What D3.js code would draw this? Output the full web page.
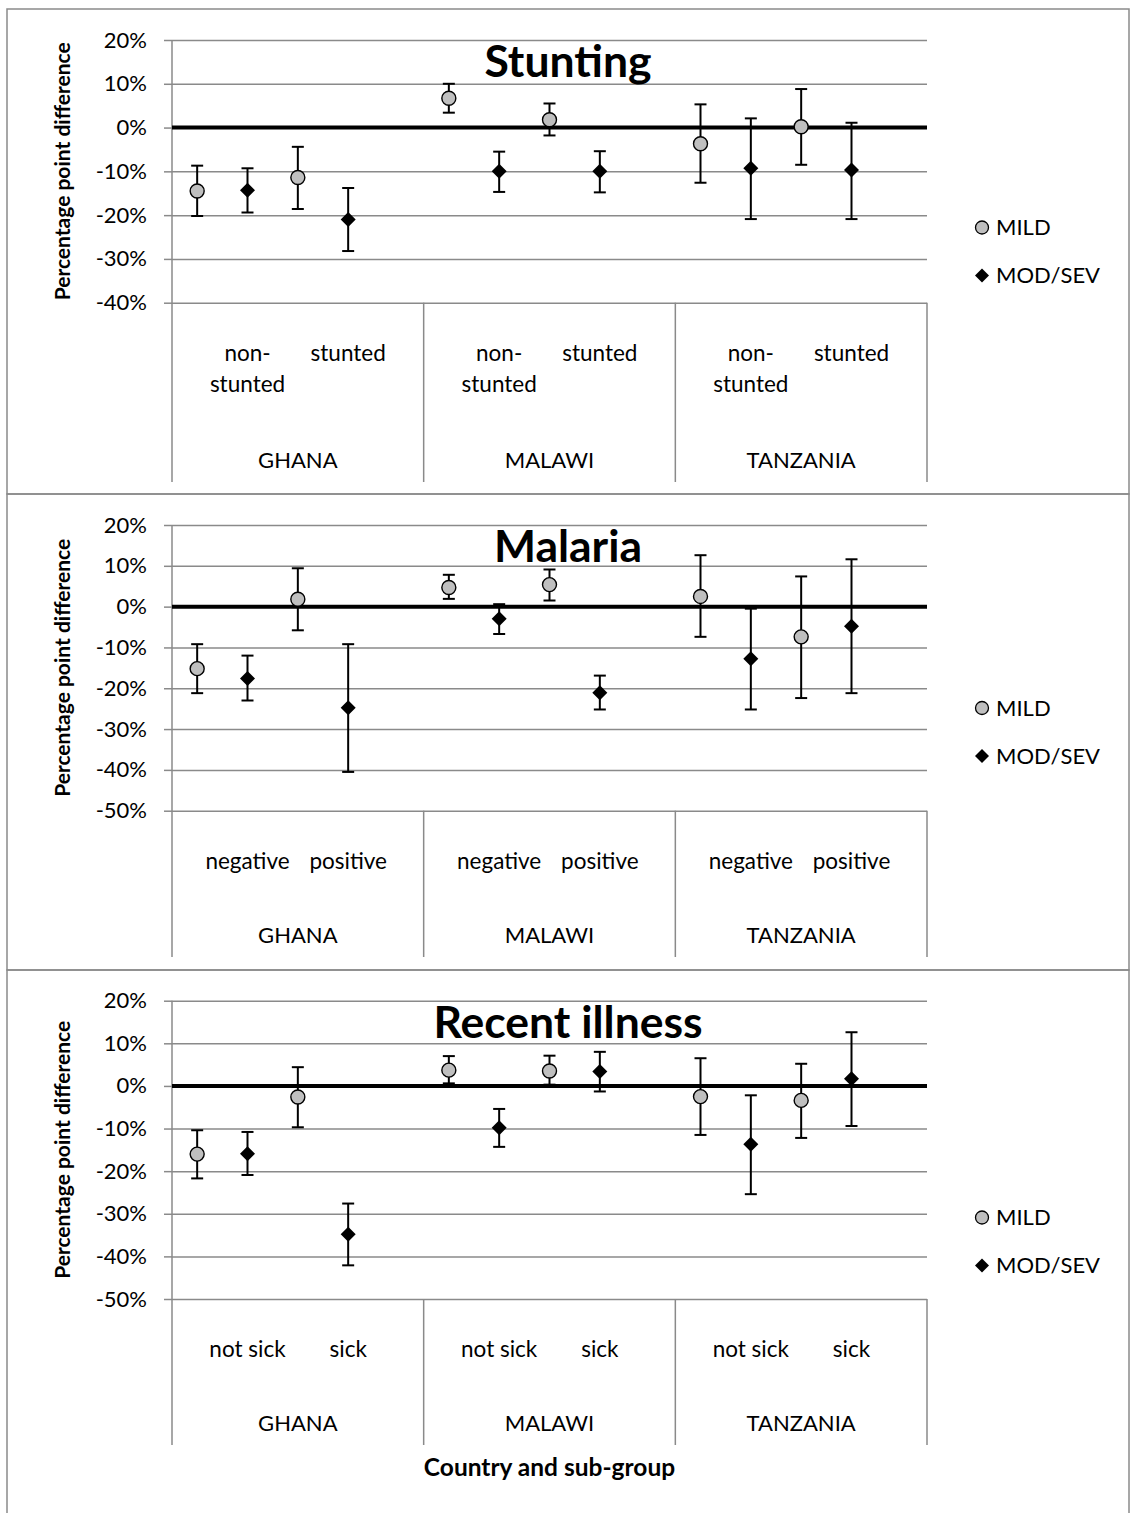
<!DOCTYPE html>
<html><head><meta charset="utf-8">
<script src="https://cdn.jsdelivr.net/npm/d3@7"></script>
<style>html,body{margin:0;padding:0;background:#fff;} svg text{font-family:Lato, "Open Sans", sans-serif;}</style>
</head><body><svg id="c" width="1130" height="1513"></svg>
<script>
// ---------------- DATA ----------------
const countries = ["GHANA", "MALAWI", "TANZANIA"];
const seriesNames = ["MILD", "MOD/SEV"];
const panelTitles = ["Stunting", "Malaria", "Recent illness"];
const stuntingLabels = [["non-", "stunted"], ["stunted"]];
const malariaLabels = [["negative"], ["positive"]];
const illnessLabels = [["not sick"], ["sick"]];
const stuntingTicks = [20, 10, 0, -10, -20, -30, -40];
const malariaTicks = [20, 10, 0, -10, -20, -30, -40, -50];
const illnessTicks = [20, 10, 0, -10, -20, -30, -40, -50];
const xAxisTitle = "Country and sub-group";
const yAxisTitle = "Percentage point difference";

// order: GHANA sub1, GHANA sub2, MALAWI sub1, MALAWI sub2, TANZANIA sub1, TANZANIA sub2
const stuntingMild     = [-14.5, -11.4,  6.7,  1.8,  -3.7,   0.2];
const stuntingMildHi   = [ -8.7,  -4.4, 10.0,  5.5,   5.3,   8.8];
const stuntingMildLo   = [-20.2, -18.6,  3.4, -1.8, -12.6,  -8.5];
const stuntingMod      = [-14.3, -21.0, -10.0, -10.0, -9.3,  -9.7];
const stuntingModHi    = [ -9.3, -13.8,  -5.5,  -5.4,  2.1,   1.1];
const stuntingModLo    = [-19.4, -28.2, -14.7, -14.8, -20.9, -20.9];

const malariaMild      = [-15.2,   1.8,  4.7,  5.4,   2.5,  -7.4];
const malariaMildHi    = [ -9.2,   9.4,  7.8,  9.1,  12.6,   7.4];
const malariaMildLo    = [-21.2,  -5.8,  1.9,  1.5,  -7.4, -22.4];
const malariaMod       = [-17.6, -24.8, -3.0, -21.1, -12.8, -4.8];
const malariaModHi     = [-12.0,  -9.2,  0.6, -16.9,  -0.5, 11.6];
const malariaModLo     = [-23.0, -40.5, -6.7, -25.2, -25.2, -21.2];

const illnessMild      = [-16.0,  -2.6,  3.7,  3.5,  -2.5,  -3.4];
const illnessMildHi    = [-10.4,   4.4,  7.0,  7.1,   6.5,   5.2];
const illnessMildLo    = [-21.7,  -9.7,  0.6,  0.3, -11.5, -12.2];
const illnessMod       = [-15.9, -34.8, -9.8,  3.4, -13.7,   1.7];
const illnessModHi     = [-10.8, -27.6, -5.4,  8.0,  -2.2,  12.6];
const illnessModLo     = [-20.9, -42.1, -14.3, -1.3, -25.4, -9.4];

// ---------------- LAYOUT ----------------
const svg = d3.select("#c");
const plotLeft = 172, plotRight = 927;
const gridColor = "#8a8a8a";
const layouts = [
  {top: 9,   bottom: 494,  yTop: 40,    yBot: 302.7, catBottom: 482},
  {top: 494, bottom: 970,  yTop: 525,   yBot: 810.7, catBottom: 957},
  {top: 970, bottom: 1516, yTop: 1000.7, yBot: 1299, catBottom: 1445}
];
const panels = [
  {title: panelTitles[0], labels: stuntingLabels, ticks: stuntingTicks,
   mild: stuntingMild, mildHi: stuntingMildHi, mildLo: stuntingMildLo,
   mod: stuntingMod, modHi: stuntingModHi, modLo: stuntingModLo},
  {title: panelTitles[1], labels: malariaLabels, ticks: malariaTicks,
   mild: malariaMild, mildHi: malariaMildHi, mildLo: malariaMildLo,
   mod: malariaMod, modHi: malariaModHi, modLo: malariaModLo},
  {title: panelTitles[2], labels: illnessLabels, ticks: illnessTicks,
   mild: illnessMild, mildHi: illnessMildHi, mildLo: illnessMildLo,
   mod: illnessMod, modHi: illnessModHi, modLo: illnessModLo}
];

const xCountry = d3.scaleBand().domain(countries).range([plotLeft, plotRight]).padding(0);
const xSlot = d3.scaleBand().domain([0, 1, 2, 3, 4]).range([0, xCountry.bandwidth()]).padding(0);
const slotX = (ci, slot) => xCountry(countries[ci]) + xSlot(slot) + xSlot.bandwidth() / 2;
const diamond = r => `M0,${-r}L${r},0L0,${r}L${-r},0Z`;

panels.forEach((p, pi) => {
  const L = layouts[pi];
  const g = svg.append("g");
  const y = d3.scaleLinear().domain([d3.min(p.ticks), d3.max(p.ticks)]).range([L.yBot, L.yTop]);

  // panel border
  g.append("rect").attr("x", 7).attr("y", L.top).attr("width", 1122).attr("height", L.bottom - L.top)
    .attr("fill", "none").attr("stroke", gridColor).attr("stroke-width", 1.5);

  // gridlines
  const grid = g.append("g").attr("transform", `translate(${plotLeft},0)`)
    .call(d3.axisLeft(y).tickValues(p.ticks).tickSize(-(plotRight - plotLeft)).tickFormat(""));
  grid.select(".domain").remove();
  grid.selectAll("line").attr("stroke", gridColor).attr("stroke-width", 1.5);

  // y axis ticks + labels
  const ax = g.append("g").attr("transform", `translate(${plotLeft},0)`)
    .call(d3.axisLeft(y).tickValues(p.ticks).tickSize(8).tickPadding(17).tickFormat(d => d + "%"));
  ax.select(".domain").remove();
  ax.selectAll("line").attr("stroke", gridColor).attr("stroke-width", 1.5);
  ax.selectAll("text").attr("font-size", 22).attr("fill", "#000").style("font-family", "Lato, sans-serif");

  // vertical axis line & category dividers
  g.append("line").attr("x1", plotLeft).attr("x2", plotLeft).attr("y1", L.yTop).attr("y2", L.catBottom)
    .attr("stroke", gridColor).attr("stroke-width", 1.5);
  countries.forEach(c => {
    const xe = xCountry(c) + xCountry.bandwidth();
    g.append("line").attr("x1", xe).attr("x2", xe).attr("y1", L.yBot).attr("y2", L.catBottom)
      .attr("stroke", gridColor).attr("stroke-width", 1.5);
  });

  // zero line
  g.append("line").attr("x1", plotLeft).attr("x2", plotRight).attr("y1", y(0)).attr("y2", y(0))
    .attr("stroke", "#000").attr("stroke-width", 4);

  // title
  g.append("text").attr("x", 568).attr("y", L.yTop + 37).attr("text-anchor", "middle")
    .attr("font-size", 44.5).attr("font-weight", "bold").text(p.title);

  // y axis title
  g.append("text").attr("transform", `translate(70,${(L.yTop + L.yBot) / 2}) rotate(-90)`)
    .attr("text-anchor", "middle").attr("font-size", 21).attr("font-weight", "bold").text(yAxisTitle);

  // points
  const pts = [];
  countries.forEach((c, ci) => {
    [0, 1].forEach(si => {
      const k = ci * 2 + si;
      pts.push({type: 0, x: slotX(ci, si * 2), v: p.mild[k], hi: p.mildHi[k], lo: p.mildLo[k]});
      pts.push({type: 1, x: slotX(ci, si * 2 + 1), v: p.mod[k], hi: p.modHi[k], lo: p.modLo[k]});
    });
  });
  const eb = g.append("g").attr("stroke", "#000").attr("stroke-width", 2);
  pts.forEach(d => {
    eb.append("line").attr("x1", d.x).attr("x2", d.x).attr("y1", y(d.hi)).attr("y2", y(d.lo));
    eb.append("line").attr("x1", d.x - 6).attr("x2", d.x + 6).attr("y1", y(d.hi)).attr("y2", y(d.hi));
    eb.append("line").attr("x1", d.x - 6).attr("x2", d.x + 6).attr("y1", y(d.lo)).attr("y2", y(d.lo));
  });
  pts.forEach(d => {
    if (d.type === 0) {
      g.append("circle").attr("cx", d.x).attr("cy", y(d.v)).attr("r", 7)
        .attr("fill", "#bfbfbf").attr("stroke", "#000").attr("stroke-width", 1.4);
    } else {
      g.append("path").attr("d", diamond(7.5)).attr("transform", `translate(${d.x},${y(d.v)})`).attr("fill", "#000");
    }
  });

  // category labels
  countries.forEach((c, ci) => {
    p.labels.forEach((lines, si) => {
      lines.forEach((ln, li) => {
        g.append("text").attr("x", slotX(ci, si * 2 + 1)).attr("y", L.yBot + 50.3 + li * 31)
          .attr("dy", "0.35em").attr("text-anchor", "middle").attr("font-size", 22.5).text(ln);
      });
    });
    g.append("text").attr("x", xCountry(c) + xCountry.bandwidth() / 2).attr("y", L.catBottom - 22)
      .attr("dy", "0.35em").attr("text-anchor", "middle").attr("font-size", 22).text(c);
  });

  // legend
  const cy = (L.top + Math.min(L.bottom, 1513)) / 2;
  const lg = g.append("g");
  lg.append("circle").attr("cx", 982).attr("cy", cy - 24).attr("r", 6.5)
    .attr("fill", "#bfbfbf").attr("stroke", "#000").attr("stroke-width", 1.3);
  lg.append("path").attr("d", diamond(7)).attr("transform", `translate(982,${cy + 24})`).attr("fill", "#000");
  seriesNames.forEach((s, i) => {
    lg.append("text").attr("x", 996).attr("y", cy - 24 + i * 48).attr("dy", "0.36em")
      .attr("font-size", 22).text(s);
  });

  if (pi === 2) {
    g.append("text").attr("x", (plotLeft + plotRight) / 2).attr("y", 1476).attr("text-anchor", "middle")
      .attr("font-size", 24.5).attr("font-weight", "bold").text(xAxisTitle);
  }
});
</script></body></html>
